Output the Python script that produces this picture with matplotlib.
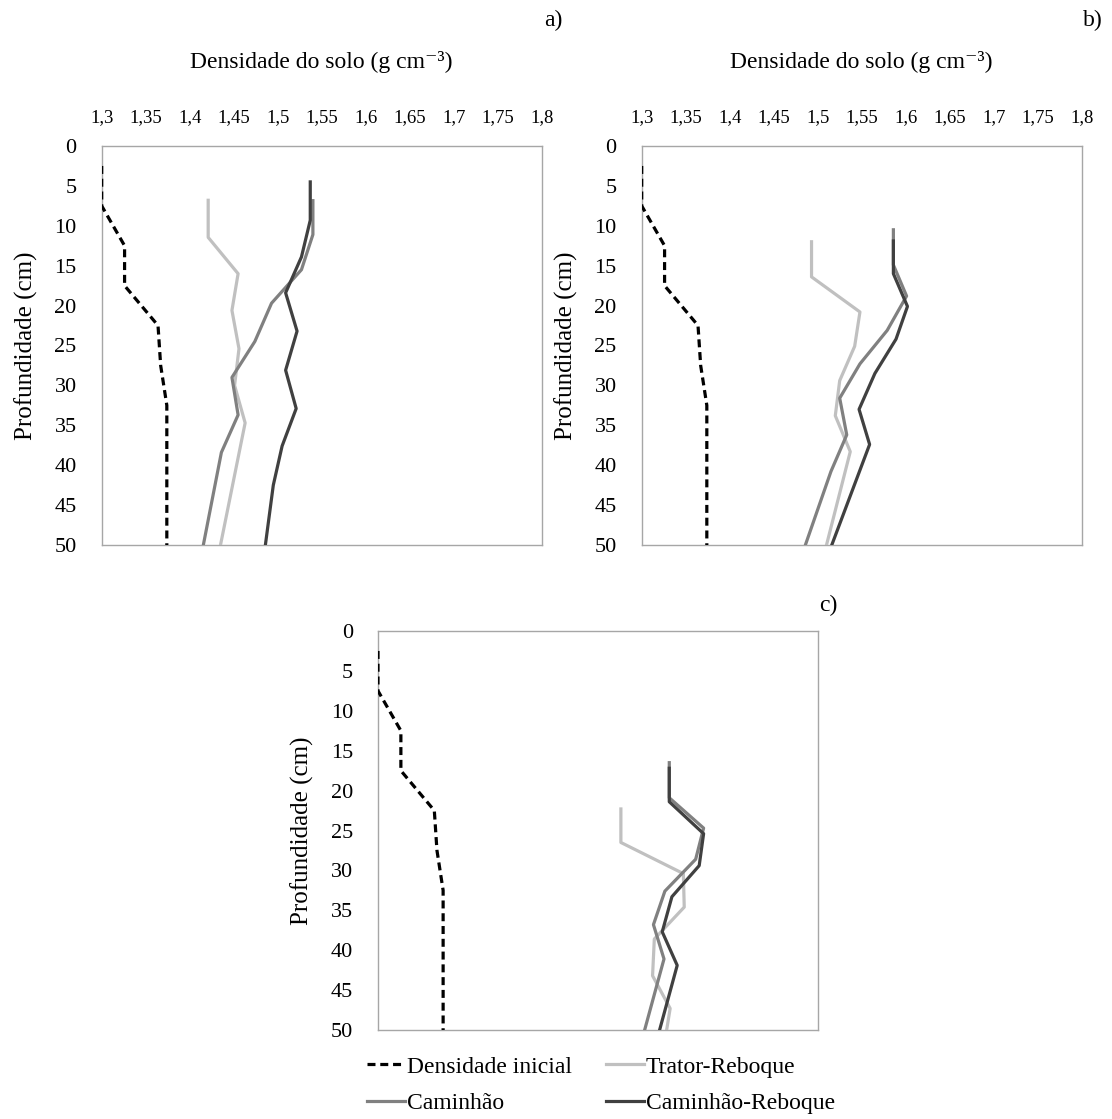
import matplotlib
matplotlib.use("Agg")
import matplotlib.pyplot as plt

plt.rcParams['font.family'] = ['Liberation Serif', 'DejaVu Serif']

# ---------------- data ----------------
xticks = [1.3, 1.35, 1.4, 1.45, 1.5, 1.55, 1.6, 1.65, 1.7, 1.75, 1.8]
xtick_labels = ["1,3", "1,35", "1,4", "1,45", "1,5", "1,55", "1,6", "1,65", "1,7", "1,75", "1,8"]
yticks = [0, 5, 10, 15, 20, 25, 30, 35, 40, 45, 50]

# Densidade inicial (same in all panels)
ini_depth = [2.5, 7.5, 12.5, 17.5, 22.5, 27.5, 32.5, 37.5, 42.5, 50]
ini_dens = [1.300, 1.300, 1.326, 1.326, 1.364, 1.367, 1.374, 1.374, 1.374, 1.374]

# Panel a
a_tr_depth = [6.8, 11.45, 16.0, 20.6, 25.4, 30.0, 34.7, 50]
a_tr_dens = [1.421, 1.421, 1.455, 1.448, 1.456, 1.451, 1.463, 1.435]
a_ca_depth = [6.85, 11.1, 15.5, 19.7, 24.5, 29.0, 33.7, 38.4, 50]
a_ca_dens = [1.540, 1.540, 1.527, 1.493, 1.474, 1.448, 1.455, 1.436, 1.4155]
a_cr_depth = [4.5, 9.3, 13.9, 18.4, 23.2, 28.1, 32.9, 37.6, 42.5, 50]
a_cr_dens = [1.537, 1.537, 1.527, 1.509, 1.522, 1.509, 1.521, 1.505, 1.495, 1.486]

# Panel b
b_tr_depth = [12.0, 16.4, 20.8, 25.1, 29.4, 33.8, 38.3, 50]
b_tr_dens = [1.493, 1.493, 1.548, 1.542, 1.525, 1.520, 1.537, 1.510]
b_ca_depth = [10.5, 14.9, 18.8, 23.1, 27.3, 31.6, 36.2, 40.8, 50]
b_ca_dens = [1.586, 1.586, 1.601, 1.579, 1.548, 1.525, 1.533, 1.515, 1.486]
b_cr_depth = [11.9, 16.0, 20.1, 24.2, 28.5, 33.0, 37.4, 50]
b_cr_dens = [1.586, 1.586, 1.602, 1.589, 1.565, 1.547, 1.559, 1.516]

# Panel c
c_tr_depth = [22.3, 26.5, 30.4, 34.6, 38.6, 43.2, 47.3, 50]
c_tr_dens = [1.576, 1.576, 1.647, 1.648, 1.614, 1.612, 1.632, 1.628]
c_ca_depth = [16.5, 20.9, 24.7, 28.6, 32.6, 36.8, 41.1, 50]
c_ca_dens = [1.631, 1.631, 1.670, 1.661, 1.626, 1.613, 1.625, 1.603]
c_cr_depth = [17.2, 21.4, 25.4, 29.4, 33.3, 37.7, 41.9, 50]
c_cr_dens = [1.631, 1.631, 1.670, 1.665, 1.634, 1.623, 1.640, 1.620]

labels = ["Densidade inicial", "Trator-Reboque", "Caminhão", "Caminhão-Reboque"]
colors = ["#000000", "#c0c0c0", "#808080", "#404040"]

# ---------------- figure ----------------
W, H = 1112, 1119
fig = plt.figure(figsize=(W / 100, H / 100), dpi=100)


def ax_rect(x0, y0, x1, y1):
    return [x0 / W, 1 - y1 / H, (x1 - x0) / W, (y1 - y0) / H]


ax_a = fig.add_axes(ax_rect(101.7, 146, 541.7, 545))
ax_b = fig.add_axes(ax_rect(641.7, 146, 1081.7, 545))
ax_c = fig.add_axes(ax_rect(378, 631, 818, 1030))

panels = [
    (ax_a, (a_tr_depth, a_tr_dens), (a_ca_depth, a_ca_dens), (a_cr_depth, a_cr_dens), True),
    (ax_b, (b_tr_depth, b_tr_dens), (b_ca_depth, b_ca_dens), (b_cr_depth, b_cr_dens), True),
    (ax_c, (c_tr_depth, c_tr_dens), (c_ca_depth, c_ca_dens), (c_cr_depth, c_cr_dens), False),
]

lw = 2.3
handles = None
for ax, tr, ca, cr, show_x in panels:
    h0, = ax.plot(ini_dens, ini_depth, color=colors[0], lw=lw, ls=(0, (2.5, 1.5)),
                  dash_capstyle='butt', label=labels[0], zorder=3)
    h1, = ax.plot(tr[1], tr[0], color=colors[1], lw=lw, label=labels[1], zorder=3)
    h2, = ax.plot(ca[1], ca[0], color=colors[2], lw=lw, label=labels[2], zorder=3)
    h3, = ax.plot(cr[1], cr[0], color=colors[3], lw=lw, label=labels[3], zorder=3)
    if handles is None:
        handles = [h0, h1, h2, h3]
    ax.set_xlim(1.3, 1.8)
    ax.set_ylim(50, 0)
    ax.set_yticks(yticks)
    ax.set_yticklabels([str(v) for v in yticks])
    ax.tick_params(axis='y', length=0, pad=18, labelsize=16)
    for s in ax.spines.values():
        s.set_color("#a6a6a6")
        s.set_linewidth(1.0)
        s.set_zorder(2)
    if show_x:
        ax.xaxis.tick_top()
        ax.set_xticks(xticks)
        ax.set_xticklabels(xtick_labels)
        ax.tick_params(axis='x', length=0, pad=14, labelsize=13.5)
    else:
        ax.set_xticks([])
    ax.set_ylabel("Profundidade (cm)", fontsize=18, labelpad=12)

# titles and panel letters
fig.text(321.7 / W, 1 - 62 / H, "Densidade do solo (g cm⁻³)", ha='center', va='center', fontsize=17)
fig.text(861.7 / W, 1 - 62 / H, "Densidade do solo (g cm⁻³)", ha='center', va='center', fontsize=17)
fig.text(553 / W, 1 - 20 / H, "a)", ha='center', va='center', fontsize=17)
fig.text(1093 / W, 1 - 20 / H, "b)", ha='center', va='center', fontsize=17)
fig.text(828 / W, 1 - 605 / H, "c)", ha='center', va='center', fontsize=17)

# legend (row-wise: matplotlib fills columns first)
order = [handles[0], handles[2], handles[1], handles[3]]
order_labels = [labels[0], labels[2], labels[1], labels[3]]
leg = fig.legend(order, order_labels, loc='upper left', bbox_to_anchor=(367 / W, 1 - 1056 / H),
                 ncol=2, frameon=False, fontsize=17, handlelength=1.6, handletextpad=0.08,
                 columnspacing=1.45, labelspacing=0.65, borderaxespad=0, borderpad=0)

fig.savefig("out.png", dpi=100)
